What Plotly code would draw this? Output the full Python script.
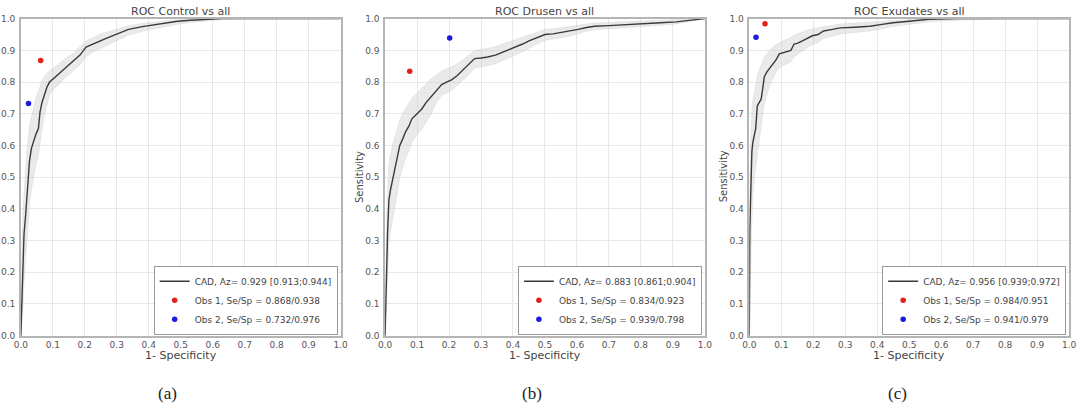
import plotly.graph_objects as go

# ---------------- data ----------------
titles = ["ROC Control vs all", "ROC Drusen vs all", "ROC Exudates vs all"]
captions = ["(a)", "(b)", "(c)"]
cad_labels = ["CAD, Az= 0.929 [0.913;0.944]", "CAD, Az= 0.883 [0.861;0.904]", "CAD, Az= 0.956 [0.939;0.972]"]
obs1_labels = ["Obs 1, Se/Sp = 0.868/0.938", "Obs 1, Se/Sp = 0.834/0.923", "Obs 1, Se/Sp = 0.984/0.951"]
obs2_labels = ["Obs 2, Se/Sp = 0.732/0.976", "Obs 2, Se/Sp = 0.939/0.798", "Obs 2, Se/Sp = 0.941/0.979"]
obs1_se = [0.868, 0.834, 0.984]
obs1_sp = [0.938, 0.923, 0.951]
obs2_se = [0.732, 0.939, 0.941]
obs2_sp = [0.976, 0.798, 0.979]

fpr_a = [0, 0.002, 0.004, 0.007, 0.010, 0.015, 0.019, 0.023, 0.027, 0.033, 0.039, 0.047, 0.055, 0.060, 0.066,
         0.075, 0.082, 0.090, 0.100, 0.121, 0.140, 0.163, 0.185, 0.204, 0.225, 0.245, 0.265, 0.286, 0.310,
         0.337, 0.380, 0.420, 0.455, 0.490, 0.530, 0.574, 0.630, 0.700, 1.0]
tpr_a = [0, 0.08, 0.16, 0.25, 0.32, 0.38, 0.43, 0.49, 0.55, 0.59, 0.61, 0.635, 0.653, 0.705, 0.735,
         0.766, 0.785, 0.80, 0.81, 0.828, 0.845, 0.864, 0.885, 0.91, 0.92, 0.93, 0.937, 0.946, 0.955,
         0.966, 0.975, 0.982, 0.987, 0.992, 0.995, 0.998, 1.0, 1.0, 1.0]
upper_a = [0.02, 0.20, 0.30, 0.40, 0.46, 0.53, 0.58, 0.62, 0.66, 0.69, 0.72, 0.75, 0.77, 0.79, 0.805,
           0.82, 0.828, 0.835, 0.843, 0.860, 0.875, 0.890, 0.910, 0.930, 0.940, 0.950, 0.956, 0.963, 0.970,
           0.978, 0.985, 0.990, 0.993, 0.996, 0.998, 1.0, 1.0, 1.0, 1.0]
lower_a = [0, 0, 0.03, 0.10, 0.17, 0.24, 0.30, 0.36, 0.41, 0.46, 0.50, 0.54, 0.57, 0.61, 0.65,
           0.70, 0.73, 0.76, 0.775, 0.795, 0.815, 0.835, 0.855, 0.880, 0.895, 0.905, 0.913, 0.925, 0.935,
           0.948, 0.960, 0.968, 0.975, 0.982, 0.988, 0.993, 0.997, 0.999, 1.0]

fpr_b = [0, 0.002, 0.004, 0.006, 0.008, 0.010, 0.012, 0.017, 0.023, 0.033, 0.040, 0.046, 0.055, 0.064, 0.074,
         0.084, 0.100, 0.115, 0.128, 0.141, 0.160, 0.177, 0.192, 0.208, 0.225, 0.244, 0.262, 0.280, 0.300,
         0.321, 0.345, 0.367, 0.388, 0.408, 0.430, 0.450, 0.475, 0.500, 0.525, 0.552, 0.578, 0.604, 0.630,
         0.655, 0.700, 0.758, 0.810, 0.861, 0.910, 0.950, 1.0]
tpr_b = [0, 0.10, 0.20, 0.27, 0.33, 0.38, 0.428, 0.46, 0.49, 0.53, 0.57, 0.60, 0.62, 0.643, 0.66,
         0.684, 0.70, 0.715, 0.735, 0.751, 0.772, 0.792, 0.800, 0.807, 0.820, 0.838, 0.855, 0.874, 0.876,
         0.879, 0.885, 0.894, 0.902, 0.910, 0.920, 0.930, 0.940, 0.950, 0.952, 0.956, 0.960, 0.966, 0.972,
         0.976, 0.978, 0.982, 0.984, 0.987, 0.990, 0.995, 1.0]
upper_b = [0.03, 0.20, 0.32, 0.40, 0.46, 0.50, 0.54, 0.57, 0.60, 0.635, 0.66, 0.68, 0.70, 0.715, 0.73,
           0.75, 0.765, 0.78, 0.795, 0.808, 0.822, 0.835, 0.842, 0.848, 0.858, 0.870, 0.885, 0.900, 0.903,
           0.906, 0.912, 0.920, 0.927, 0.934, 0.942, 0.950, 0.958, 0.966, 0.968, 0.971, 0.974, 0.979, 0.983,
           0.986, 0.988, 0.991, 0.993, 0.995, 0.997, 0.999, 1.0]
lower_b = [0, 0, 0.08, 0.14, 0.19, 0.24, 0.29, 0.33, 0.37, 0.42, 0.46, 0.50, 0.53, 0.56, 0.58,
           0.61, 0.635, 0.652, 0.673, 0.693, 0.735, 0.758, 0.766, 0.774, 0.788, 0.806, 0.824, 0.845, 0.848,
           0.852, 0.858, 0.868, 0.876, 0.885, 0.896, 0.908, 0.920, 0.932, 0.935, 0.940, 0.945, 0.952, 0.960,
           0.965, 0.968, 0.973, 0.976, 0.979, 0.983, 0.990, 1.0]

fpr_c = [0, 0.0005, 0.001, 0.0015, 0.004, 0.006, 0.008, 0.011, 0.016, 0.020, 0.025, 0.030, 0.037, 0.042,
         0.047, 0.055, 0.068, 0.076, 0.083, 0.094, 0.110, 0.130, 0.140, 0.150, 0.166, 0.180, 0.197, 0.215,
         0.232, 0.260, 0.284, 0.330, 0.377, 0.410, 0.449, 0.500, 0.562, 0.650, 0.800, 1.0]
tpr_c = [0, 0.15, 0.25, 0.33, 0.43, 0.52, 0.58, 0.61, 0.63, 0.653, 0.725, 0.735, 0.746, 0.78,
         0.817, 0.832, 0.848, 0.860, 0.869, 0.889, 0.895, 0.900, 0.920, 0.922, 0.930, 0.938, 0.946, 0.950,
         0.961, 0.966, 0.971, 0.973, 0.976, 0.981, 0.987, 0.992, 0.998, 1.0, 1.0, 1.0]
upper_c = [0.05, 0.30, 0.42, 0.50, 0.60, 0.67, 0.71, 0.74, 0.77, 0.79, 0.82, 0.835, 0.85, 0.865,
           0.88, 0.89, 0.905, 0.912, 0.918, 0.925, 0.932, 0.940, 0.948, 0.952, 0.958, 0.963, 0.968, 0.971,
           0.976, 0.980, 0.983, 0.986, 0.989, 0.992, 0.995, 0.997, 0.999, 1.0, 1.0, 1.0]
lower_c = [0, 0, 0.05, 0.12, 0.20, 0.30, 0.38, 0.44, 0.50, 0.53, 0.58, 0.62, 0.66, 0.70,
           0.73, 0.76, 0.80, 0.815, 0.83, 0.845, 0.855, 0.864, 0.88, 0.888, 0.898, 0.908, 0.918, 0.925,
           0.938, 0.945, 0.952, 0.956, 0.961, 0.967, 0.975, 0.982, 0.990, 0.995, 0.999, 1.0]

fprs = [fpr_a, fpr_b, fpr_c]
tprs = [tpr_a, tpr_b, tpr_c]
uppers = [upper_a, upper_b, upper_c]
lowers = [lower_a, lower_b, lower_c]

# ---------------- layout geometry ----------------
W, H = 1086, 407
x_left = [14, 383, 752]
x_right = [338, 707, 1076]
y_top, y_bot = 14, 339
caption_x = [163, 532, 902]

FONT = "DejaVu Sans"
TXT = "#444444"

fig = go.Figure()
layout = dict(
    width=W, height=H, margin=dict(l=0, r=0, t=0, b=0),
    paper_bgcolor="white", plot_bgcolor="white", showlegend=True,
    font=dict(family=FONT, size=9, color="#555555"),
)
annotations = []

for i in range(3):
    sx = "" if i == 0 else str(i + 1)
    xref, yref = "x" + sx, "y" + sx
    leg = "legend" + sx
    fpr, tpr, up, lo = fprs[i], tprs[i], uppers[i], lowers[i]

    # confidence band
    fig.add_trace(go.Scatter(
        x=list(fpr) + list(fpr)[::-1], y=list(up) + list(lo)[::-1],
        fill="toself", fillcolor="rgba(205,205,205,0.42)",
        line=dict(color="rgba(190,190,190,0.45)", width=0.6),
        mode="lines", hoverinfo="skip", showlegend=False,
        xaxis=xref, yaxis=yref))
    # CAD curve
    fig.add_trace(go.Scatter(
        x=fpr, y=tpr, mode="lines", name=cad_labels[i],
        line=dict(color="#3a3a3a", width=1.4),
        xaxis=xref, yaxis=yref, legend=leg))
    # observers
    fig.add_trace(go.Scatter(
        x=[1 - obs1_sp[i]], y=[obs1_se[i]], mode="markers", name=obs1_labels[i],
        marker=dict(color="#e3201c", size=5.5),
        xaxis=xref, yaxis=yref, legend=leg))
    fig.add_trace(go.Scatter(
        x=[1 - obs2_sp[i]], y=[obs2_se[i]], mode="markers", name=obs2_labels[i],
        marker=dict(color="#1a1ae0", size=5.5),
        xaxis=xref, yaxis=yref, legend=leg))

    ax_common = dict(
        range=[0, 1], dtick=0.1, tick0=0, tickformat=".1f",
        showgrid=True, gridcolor="#e8e8e8", gridwidth=1,
        zeroline=False, showline=True, linecolor="#b5b5b5", linewidth=1.5, mirror=True,
        ticks="", tickfont=dict(family=FONT, size=9, color="#555555"), fixedrange=True,
    )
    layout["xaxis" + sx] = dict(ax_common, domain=[x_left[i] / W, x_right[i] / W], anchor=yref)
    layout["yaxis" + sx] = dict(ax_common, domain=[1 - y_bot / H, 1 - y_top / H], anchor=xref,
                                ticklabelstandoff=2)

    layout[leg] = dict(
        x=(x_right[i] - 3) / W, y=1 - (y_bot - 1) / H, xanchor="right", yanchor="bottom",
        bgcolor="white", bordercolor="#9a9a9a", borderwidth=1,
        font=dict(family=FONT, size=9, color="#444444"),
        tracegroupgap=0, itemwidth=30,
    )

    cx = (x_left[i] + x_right[i]) / 2 / W
    annotations.append(dict(text=titles[i], x=cx, y=1 - 7 / H, xref="paper", yref="paper",
                            showarrow=False, xanchor="center", yanchor="middle",
                            font=dict(family=FONT, size=11, color=TXT)))
    annotations.append(dict(text="1- Specificity", x=cx, y=1 - 359 / H, xref="paper", yref="paper",
                            showarrow=False, xanchor="center", yanchor="middle",
                            font=dict(family=FONT, size=11, color=TXT)))
    if i > 0:
        annotations.append(dict(text="Sensitivity", x=(x_left[i] - 26) / W, y=1 - 176 / H,
                                xref="paper", yref="paper", textangle=-90,
                                showarrow=False, xanchor="center", yanchor="middle",
                                font=dict(family=FONT, size=10, color=TXT)))
    annotations.append(dict(text=captions[i], x=caption_x[i] / W, y=1 - 398 / H, xref="paper", yref="paper",
                            showarrow=False, xanchor="center", yanchor="middle",
                            font=dict(family="Liberation Serif", size=17, color="#222222")))

layout["annotations"] = annotations
fig.update_layout(**layout)
fig.write_html("out.html")
